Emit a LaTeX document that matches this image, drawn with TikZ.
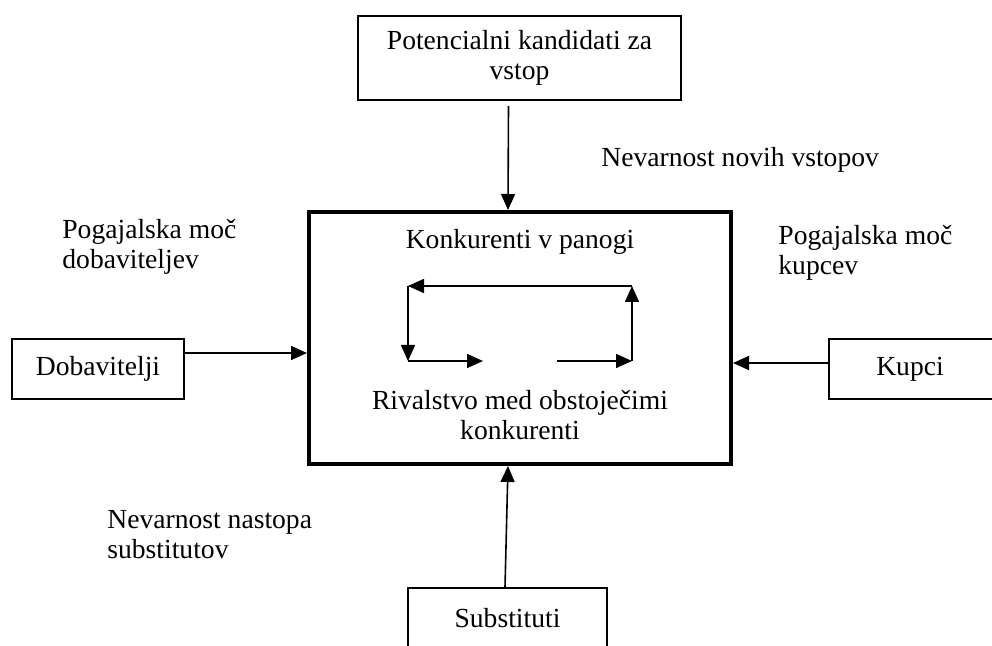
\documentclass[tikz,border=0pt]{standalone}
\usepackage{fontspec}
\setmainfont{Liberation Serif}
\usetikzlibrary{arrows.meta}

\tikzset{
  box/.style={draw, line width=1pt, inner sep=0pt},
  arr/.style={draw, line width=0.8pt, -{Triangle[length=8pt,width=7pt]}},
}

\begin{document}
\begin{tikzpicture}[x=0.5pt, y=-0.5pt, font=\fontsize{13.8}{15}\selectfont]

        \useasboundingbox (0,0) rectangle (992,646);
        \clip (0,0) rectangle (992,646);

        \begin{scope}[every node/.style={box}]
          \node (top)  at (519.5,58)  [minimum width=161.5pt, minimum height=42pt] {};
          \node (main) at (520,338)   [minimum width=211pt, minimum height=126pt, line width=2pt] {};
          \node (dob)  at (98,369)    [minimum width=86pt, minimum height=30pt] {};
          \node (kup)  at (914.5,369) [minimum width=85.5pt, minimum height=30pt] {};
          \node (sub)  at (507.5,618) [minimum width=99.5pt, minimum height=30pt] {};
        \end{scope}

        % texts
        \node at (519.5,58) [align=center] {Potencialni kandidati za\\vstop};
        \node at (dob)  {Dobavitelji};
        \node at (910,369) {Kupci};
        \node at (507.5,618) {Substituti};
        \node at (520,242) {Konkurenti v panogi};
        \node at (520,415) [align=center] {Rivalstvo med obstoječimi\\konkurenti};
        \node at (601,160) [anchor=west, inner sep=0pt] {Nevarnost novih vstopov};
        \node at (62,247)  [anchor=west, inner sep=0pt, align=left] {Pogajalska moč\\dobaviteljev};
        \node at (778,253) [anchor=west, inner sep=0pt, align=left] {Pogajalska moč\\kupcev};
        \node at (107,535) [anchor=west, inner sep=0pt, align=left] {Nevarnost nastopa\\substitutov};

        % rivalry loop
        \coordinate (c1) at (408,286);
        \coordinate (c2) at (408,361);
        \coordinate (c3) at (483,361);
        \coordinate (c4) at (557,361);
        \coordinate (c5) at (632,361);
        \coordinate (c6) at (632,286);

        \begin{scope}[every edge/.style={arr}]
          \path ([xshift=-5.5pt,yshift=-2.5pt]top.south) edge ([xshift=-6pt]main.north);
          \path ([yshift=8pt]dob.east) edge ([yshift=8pt]dob.east -| main.west);
          \path ([yshift=3pt]kup.west) edge ([yshift=3pt]kup.west -| main.east);
          \path ([xshift=-1.25pt]sub.north) edge ([xshift=-6pt]main.south);
          \path (c6) edge (c1);
          \path (c1) edge (c2);
          \path (c2) edge (c3);
          \path (c4) edge (c5);
          \path (c5) edge (c6);
        \end{scope}
      \end{tikzpicture}
\end{document}
